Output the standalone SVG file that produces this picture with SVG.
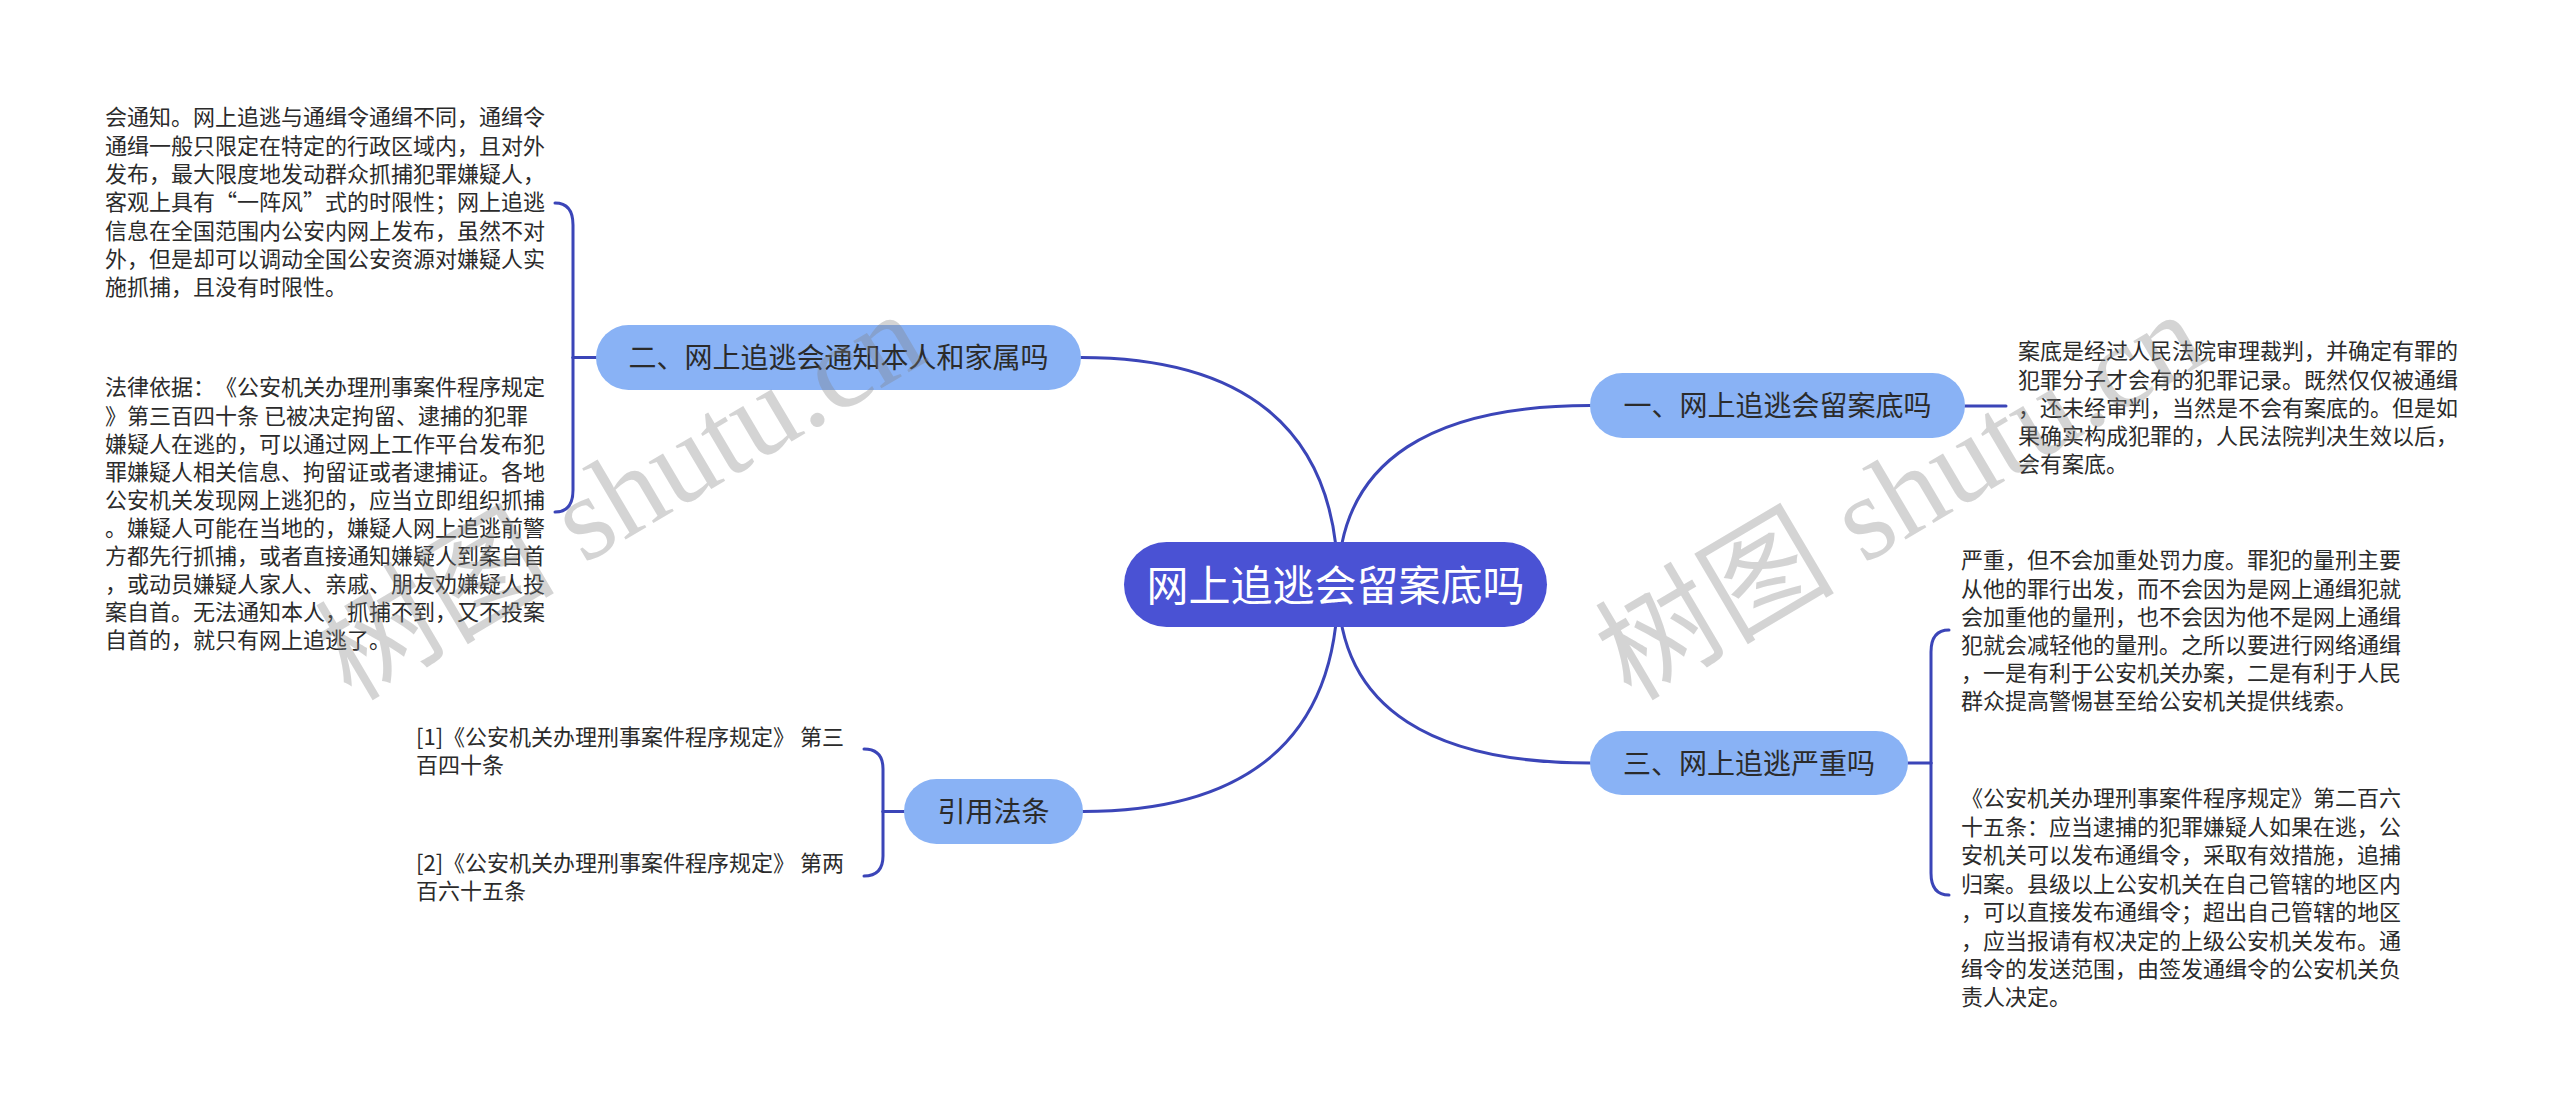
<svg xmlns="http://www.w3.org/2000/svg" width="2560" height="1114" viewBox="0 0 2560 1114">
<style>
.bg{fill:#ffffff}
text{text-spacing-trim:space-all}
.t{font-family:"Noto Sans CJK SC","Liberation Sans",sans-serif;font-size:22px;fill:#2b2b2b}
.nt{font-family:"Noto Sans CJK SC","Liberation Sans",sans-serif;font-size:28px;fill:#2b2b2b;text-anchor:middle}
.rt{font-family:"Noto Sans CJK SC","Liberation Sans",sans-serif;font-size:42px;fill:#ffffff;text-anchor:middle}
.nb{fill:#89b2f5}
.rb{fill:#4a52d4}
.c{fill:none;stroke:#3b45b8;stroke-width:3;stroke-linecap:round}
.wm{font-family:"Liberation Serif","Noto Sans CJK SC",serif;font-size:120px;fill:#808080;opacity:0.33}
</style>
<rect class="bg" x="0" y="0" width="2560" height="1114"/>

<g id="connectors">
  <path class="c" d="M1338,585 C1338,421 1235,357.5 1081,357.5"/>
  <path class="c" d="M1338,585 C1338,456 1439,405.5 1590,405.5"/>
  <path class="c" d="M1338,585 C1338,748 1236,811.5 1083,811.5"/>
  <path class="c" d="M1338,585 C1338,713 1439,763 1590,763"/>
  <path class="c" d="M596,357.5 L573,357.5"/>
  <path class="c" d="M573,357.5 L573,225 Q573,203 555,203"/>
  <path class="c" d="M573,357.5 L573,490 Q573,512 555,512"/>
  <path class="c" d="M1965,406 L2006,406"/>
  <path class="c" d="M1908,763 L1931,763"/>
  <path class="c" d="M1931,763 L1931,652 Q1931,630 1949,630"/>
  <path class="c" d="M1931,763 L1931,873 Q1931,895 1949,895"/>
  <path class="c" d="M904,811.5 L883,811.5"/>
  <path class="c" d="M883,811.5 L883,769 Q883,749 864,749"/>
  <path class="c" d="M883,811.5 L883,856 Q883,876 864,876"/>
</g>

<g id="root">
  <rect class="rb" x="1124" y="542" width="423" height="85" rx="42.5"/>
  <text class="rt" x="1335.5" y="600.5">网上追逃会留案底吗</text>
</g>

<g id="node-2">
  <rect class="nb" x="596" y="325" width="485" height="65" rx="32.5"/>
  <text class="nt" x="838.5" y="368">二、网上追逃会通知本人和家属吗</text>
</g>
<g id="node-1">
  <rect class="nb" x="1590" y="373" width="375" height="65" rx="32.5"/>
  <text class="nt" x="1777.5" y="416">一、网上追逃会留案底吗</text>
</g>
<g id="node-3">
  <rect class="nb" x="1590" y="731" width="318" height="64" rx="32"/>
  <text class="nt" x="1749" y="773.6">三、网上追逃严重吗</text>
</g>
<g id="node-cite">
  <rect class="nb" x="904" y="779" width="179" height="65" rx="32.5"/>
  <text class="nt" x="993.5" y="822">引用法条</text>
</g>

<g id="leaf-2a">
  <text class="t">
    <tspan x="105" y="125.4">会通知。网上追逃与通缉令通缉不同，通缉令</tspan>
    <tspan x="105" y="153.7">通缉一般只限定在特定的行政区域内，且对外</tspan>
    <tspan x="105" y="182.1">发布，最大限度地发动群众抓捕犯罪嫌疑人，</tspan>
    <tspan x="105" y="210.4">客观上具有“一阵风”式的时限性；网上追逃</tspan>
    <tspan x="105" y="238.7">信息在全国范围内公安内网上发布，虽然不对</tspan>
    <tspan x="105" y="267.1">外，但是却可以调动全国公安资源对嫌疑人实</tspan>
    <tspan x="105" y="295.4">施抓捕，且没有时限性。</tspan>
  </text>
</g>
<g id="leaf-2b">
  <text class="t">
    <tspan x="105" y="395.4">法律依据：《公安机关办理刑事案件程序规定</tspan>
    <tspan x="105" y="423.5">》第三百四十条 已被决定拘留、逮捕的犯罪</tspan>
    <tspan x="105" y="451.6">嫌疑人在逃的，可以通过网上工作平台发布犯</tspan>
    <tspan x="105" y="479.7">罪嫌疑人相关信息、拘留证或者逮捕证。各地</tspan>
    <tspan x="105" y="507.8">公安机关发现网上逃犯的，应当立即组织抓捕</tspan>
    <tspan x="105" y="535.9">。嫌疑人可能在当地的，嫌疑人网上追逃前警</tspan>
    <tspan x="105" y="564">方都先行抓捕，或者直接通知嫌疑人到案自首</tspan>
    <tspan x="105" y="592.1">，或动员嫌疑人家人、亲戚、朋友劝嫌疑人投</tspan>
    <tspan x="105" y="620.2">案自首。无法通知本人，抓捕不到，又不投案</tspan>
    <tspan x="105" y="648.4">自首的，就只有网上追逃了。</tspan>
  </text>
</g>
<g id="leaf-1">
  <text class="t">
    <tspan x="2018" y="359.4">案底是经过人民法院审理裁判，并确定有罪的</tspan>
    <tspan x="2018" y="387.7">犯罪分子才会有的犯罪记录。既然仅仅被通缉</tspan>
    <tspan x="2018" y="415.9">，还未经审判，当然是不会有案底的。但是如</tspan>
    <tspan x="2018" y="444.2">果确实构成犯罪的，人民法院判决生效以后，</tspan>
    <tspan x="2018" y="472.4">会有案底。</tspan>
  </text>
</g>
<g id="leaf-3a">
  <text class="t">
    <tspan x="1961" y="568.4">严重，但不会加重处罚力度。罪犯的量刑主要</tspan>
    <tspan x="1961" y="596.6">从他的罪行出发，而不会因为是网上通缉犯就</tspan>
    <tspan x="1961" y="624.8">会加重他的量刑，也不会因为他不是网上通缉</tspan>
    <tspan x="1961" y="653">犯就会减轻他的量刑。之所以要进行网络通缉</tspan>
    <tspan x="1961" y="681.2">，一是有利于公安机关办案，二是有利于人民</tspan>
    <tspan x="1961" y="709.4">群众提高警惕甚至给公安机关提供线索。</tspan>
  </text>
</g>
<g id="leaf-3b">
  <text class="t">
    <tspan x="1961" y="806.4">《公安机关办理刑事案件程序规定》第二百六</tspan>
    <tspan x="1961" y="834.8">十五条：应当逮捕的犯罪嫌疑人如果在逃，公</tspan>
    <tspan x="1961" y="863.3">安机关可以发布通缉令，采取有效措施，追捕</tspan>
    <tspan x="1961" y="891.7">归案。县级以上公安机关在自己管辖的地区内</tspan>
    <tspan x="1961" y="920.1">，可以直接发布通缉令；超出自己管辖的地区</tspan>
    <tspan x="1961" y="948.5">，应当报请有权决定的上级公安机关发布。通</tspan>
    <tspan x="1961" y="977">缉令的发送范围，由签发通缉令的公安机关负</tspan>
    <tspan x="1961" y="1005.4">责人决定。</tspan>
  </text>
</g>
<g id="leaf-cite-1">
  <text class="t">
    <tspan x="416" y="745.4">[1]《公安机关办理刑事案件程序规定》 第三</tspan>
    <tspan x="416" y="773.4">百四十条</tspan>
  </text>
</g>
<g id="leaf-cite-2">
  <text class="t">
    <tspan x="416" y="871.4">[2]《公安机关办理刑事案件程序规定》 第两</tspan>
    <tspan x="416" y="899.4">百六十五条</tspan>
  </text>
</g>

<g id="watermark">
  <text class="wm" transform="translate(351,702) rotate(-30.6)">树图 shutu.cn</text>
  <text class="wm" transform="translate(1631,702) rotate(-30.6)">树图 shutu.cn</text>
</g>
</svg>
